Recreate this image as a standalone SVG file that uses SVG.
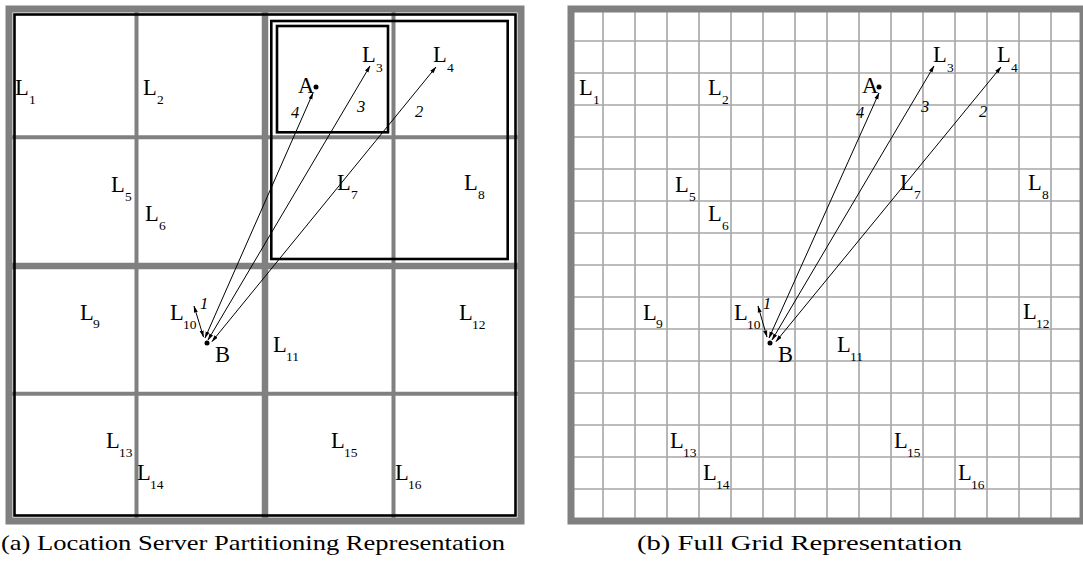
<svg xmlns="http://www.w3.org/2000/svg" width="1083" height="572" viewBox="0 0 1083 572">
<style>
.frame{fill:none;stroke:#808080;stroke-width:7}
.g4{stroke:#808080;stroke-width:4}
.g6{stroke:#808080;stroke-width:6.5}
.fine{stroke:#a6a6a6;stroke-width:1.6}
.blk{fill:none;stroke:#000;stroke-width:2.6}
.lbl{font-family:"Liberation Serif","Times New Roman",serif;font-size:22.5px;fill:#000}
.sub{font-size:13.5px}
.num{font-family:"Liberation Serif","Times New Roman",serif;font-size:16.5px;font-style:italic;fill:#000}
.cap{font-family:"Liberation Serif","Times New Roman",serif;font-size:21.5px;fill:#000}
.arr{stroke:#000;stroke-width:1;fill:none;marker-start:url(#ah);marker-end:url(#ah)}
</style>
<defs>
<marker id="ah" markerUnits="userSpaceOnUse" markerWidth="7" markerHeight="5" refX="6.5" refY="2.5" orient="auto-start-reverse">
<path d="M0,0.5 L7,2.5 L0,4.5 z" fill="#000"/>
</marker>
</defs>
<rect width="1083" height="572" fill="#fff"/>

<!-- Panel (a) -->
<g id="panel-a-grid">
<line class="g4" x1="136.5" y1="9" x2="136.5" y2="521"/>
<line class="g4" x1="393.5" y1="9" x2="393.5" y2="521"/>
<line class="g4" x1="9" y1="137.3" x2="521" y2="137.3"/>
<line class="g4" x1="9" y1="393.7" x2="521" y2="393.7"/>
<line class="g6" x1="265" y1="9" x2="265" y2="521"/>
<line class="g6" x1="9" y1="266" x2="521" y2="266"/>
<rect class="frame" x="9" y="9" width="512" height="512"/>
</g>
<g id="panel-a-regions">
<rect class="blk" x="14.5" y="14.5" width="501" height="501"/>
<rect class="blk" x="271.3" y="21" width="236.4" height="238"/>
<rect class="blk" x="277" y="26" width="111" height="106.3"/>
</g>

<!-- Panel (b) -->
<g id="panel-b-grid">
<path class="fine" d="M603,9V521M635,9V521M667,9V521M699,9V521M731,9V521M763,9V521M795,9V521M827,9V521M859,9V521M891,9V521M923,9V521M955,9V521M987,9V521M1019,9V521M1051,9V521"/>
<path class="fine" d="M571,41H1083M571,73H1083M571,105H1083M571,137H1083M571,169H1083M571,201H1083M571,233H1083M571,265H1083M571,297H1083M571,329H1083M571,361H1083M571,393H1083M571,425H1083M571,457H1083M571,489H1083"/>
<rect class="frame" x="571" y="9" width="512" height="512"/>
</g>

<!-- Nodes panel (a) -->
<g id="a-L1"><text class="lbl" x="15" y="95">L<tspan class="sub" x="29" y="104">1</tspan></text></g>
<g id="a-L2"><text class="lbl" x="143" y="95">L<tspan class="sub" x="157" y="104">2</tspan></text></g>
<g id="a-L3"><text class="lbl" x="362" y="62">L<tspan class="sub" x="376" y="72">3</tspan></text></g>
<g id="a-L4"><text class="lbl" x="433" y="62">L<tspan class="sub" x="447" y="72">4</tspan></text></g>
<g id="a-L5"><text class="lbl" x="111" y="192">L<tspan class="sub" x="125" y="201">5</tspan></text></g>
<g id="a-L6"><text class="lbl" x="145" y="221">L<tspan class="sub" x="159" y="230">6</tspan></text></g>
<g id="a-L7"><text class="lbl" x="337" y="190">L<tspan class="sub" x="351" y="199">7</tspan></text></g>
<g id="a-L8"><text class="lbl" x="464" y="190">L<tspan class="sub" x="478" y="199">8</tspan></text></g>
<g id="a-L9"><text class="lbl" x="80" y="320">L<tspan class="sub" x="93" y="328">9</tspan></text></g>
<g id="a-L10"><text class="lbl" x="170" y="320">L<tspan class="sub" x="183" y="329">10</tspan></text></g>
<g id="a-L11"><text class="lbl" x="273" y="352">L<tspan class="sub" x="286" y="361">11</tspan></text></g>
<g id="a-L12"><text class="lbl" x="459" y="320">L<tspan class="sub" x="472" y="329">12</tspan></text></g>
<g id="a-L13"><text class="lbl" x="106" y="448">L<tspan class="sub" x="119" y="457">13</tspan></text></g>
<g id="a-L14"><text class="lbl" x="137" y="480">L<tspan class="sub" x="150" y="489">14</tspan></text></g>
<g id="a-L15"><text class="lbl" x="331" y="448">L<tspan class="sub" x="344" y="457">15</tspan></text></g>
<g id="a-L16"><text class="lbl" x="395" y="480">L<tspan class="sub" x="408" y="489">16</tspan></text></g>
<g id="a-A"><text class="lbl" x="298" y="93">A</text><circle cx="316" cy="87" r="2.5" fill="#000"/></g>
<g id="a-B"><text class="lbl" x="215" y="362">B</text><circle cx="207" cy="343" r="2.5" fill="#000"/></g>

<!-- Nodes panel (b) -->
<g id="b-L1"><text class="lbl" x="579" y="95">L<tspan class="sub" x="593" y="104">1</tspan></text></g>
<g id="b-L2"><text class="lbl" x="708" y="95">L<tspan class="sub" x="722" y="104">2</tspan></text></g>
<g id="b-L3"><text class="lbl" x="933" y="62">L<tspan class="sub" x="947" y="72">3</tspan></text></g>
<g id="b-L4"><text class="lbl" x="997" y="62">L<tspan class="sub" x="1011" y="72">4</tspan></text></g>
<g id="b-L5"><text class="lbl" x="675" y="192">L<tspan class="sub" x="689" y="201">5</tspan></text></g>
<g id="b-L6"><text class="lbl" x="708" y="221">L<tspan class="sub" x="722" y="230">6</tspan></text></g>
<g id="b-L7"><text class="lbl" x="900" y="190">L<tspan class="sub" x="914" y="199">7</tspan></text></g>
<g id="b-L8"><text class="lbl" x="1028" y="190">L<tspan class="sub" x="1042" y="199">8</tspan></text></g>
<g id="b-L9"><text class="lbl" x="643" y="320">L<tspan class="sub" x="656" y="328">9</tspan></text></g>
<g id="b-L10"><text class="lbl" x="734" y="320">L<tspan class="sub" x="747" y="329">10</tspan></text></g>
<g id="b-L11"><text class="lbl" x="837" y="352">L<tspan class="sub" x="850" y="361">11</tspan></text></g>
<g id="b-L12"><text class="lbl" x="1023" y="319">L<tspan class="sub" x="1036" y="328">12</tspan></text></g>
<g id="b-L13"><text class="lbl" x="670" y="448">L<tspan class="sub" x="683" y="457">13</tspan></text></g>
<g id="b-L14"><text class="lbl" x="703" y="480">L<tspan class="sub" x="716" y="489">14</tspan></text></g>
<g id="b-L15"><text class="lbl" x="894" y="448">L<tspan class="sub" x="907" y="457">15</tspan></text></g>
<g id="b-L16"><text class="lbl" x="958" y="480">L<tspan class="sub" x="971" y="489">16</tspan></text></g>
<g id="b-A"><text class="lbl" x="862" y="93">A</text><circle cx="879" cy="87" r="2.5" fill="#000"/></g>
<g id="b-B"><text class="lbl" x="778" y="362">B</text><circle cx="770" cy="343" r="2.5" fill="#000"/></g>

<!-- Connectors -->
<g id="connectors">
<line class="arr" x1="203.5" y1="337" x2="194" y2="306"/>
<line class="arr" x1="205" y1="338" x2="313" y2="93"/>
<line class="arr" x1="208" y1="340" x2="370" y2="66"/>
<line class="arr" x1="212" y1="341.5" x2="436" y2="67"/>
<line class="arr" x1="767" y1="337" x2="758" y2="306"/>
<line class="arr" x1="769" y1="338" x2="879" y2="93"/>
<line class="arr" x1="772" y1="340" x2="934" y2="66"/>
<line class="arr" x1="776" y1="341.5" x2="1001" y2="67"/>
<text class="num" x="200" y="309">1</text>
<text class="num" x="291" y="118">4</text>
<text class="num" x="357" y="112">3</text>
<text class="num" x="415" y="117">2</text>
<text class="num" x="763" y="309">1</text>
<text class="num" x="856" y="118">4</text>
<text class="num" x="921" y="112">3</text>
<text class="num" x="979" y="117">2</text>
</g>

<!-- Captions -->
<text class="cap" x="1" y="550" textLength="504" lengthAdjust="spacingAndGlyphs">(a) Location Server Partitioning Representation</text>
<text class="cap" x="637" y="550" textLength="325" lengthAdjust="spacingAndGlyphs">(b) Full Grid Representation</text>
</svg>
